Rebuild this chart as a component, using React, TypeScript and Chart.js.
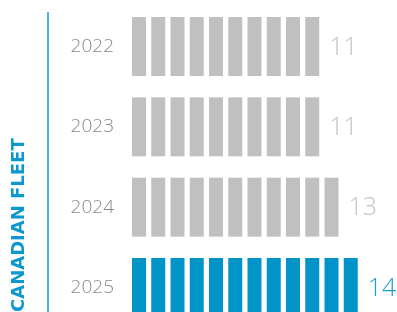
import { useEffect, useRef } from "react";
import { Chart, registerables } from "chart.js";

Chart.register(...registerables);

// ---- data ----
const years: string[] = ["2022", "2023", "2024", "2025"];
const fleetValues: number[] = [11, 11, 13, 14];
const unitCounts: number[] = [10, 10, 11, 12];
const highlightYear = "2025";
const axisTitle = "CANADIAN FLEET";

// ---- styles ----
const GRAY = "#c0c0c0";
const BLUE = "#0094c8";
const LINE_BLUE = "#4ab4dc";
const TITLE_BLUE = "#0d97cf";
const YEAR_COLOR = "#8a8a8a";
const VALUE_GRAY = "#c4c4c4";
const VALUE_BLUE = "#1a9ed3";
const UNIT_FILL = 0.727;
const TITLE_FONT_SIZE = 18;
const TITLE_PAD = 8.5;
const TITLE_W = TITLE_FONT_SIZE * 1.2 + TITLE_PAD * 2;

export default function App() {
  const ref = useRef<HTMLCanvasElement | null>(null);

  useEffect(() => {
    if (!ref.current) return;
    const maxUnits = Math.max(...unitCounts);
    const datasets = Array.from({ length: maxUnits }, (_, i) => ({
      label: `unit ${i + 1}`,
      data: unitCounts.map((n) => (n > i ? [i, i + UNIT_FILL] : null)),
      backgroundColor: years.map((y) => (y === highlightYear ? BLUE : GRAY)),
      grouped: false,
      clip: false as any,
      barPercentage: 0.734,
      categoryPercentage: 1,
      borderWidth: 0,
    }));

    const valueLabels = {
      id: "valueLabels",
      afterDatasetsDraw(chart: any) {
        const ctx = chart.ctx;
        ctx.save();
        ctx.font = "300 25px 'Open Sans', 'Liberation Sans', sans-serif";
        ctx.textBaseline = "middle";
        ctx.textAlign = "left";
        years.forEach((y, c) => {
          const meta = chart.getDatasetMeta(unitCounts[c] - 1);
          const el = meta.data[c];
          if (!el) return;
          ctx.fillStyle = y === highlightYear ? VALUE_BLUE : VALUE_GRAY;
          ctx.fillText(String(fleetValues[c]), el.x + 10, el.y + 1);
        });
        ctx.restore();
      },
    };

    const sideLine = {
      id: "sideLine",
      afterDraw(chart: any) {
        const ctx = chart.ctx;
        const x = chart.titleBlock.right + 9.4;
        ctx.save();
        ctx.strokeStyle = LINE_BLUE;
        ctx.lineWidth = 2;
        ctx.beginPath();
        ctx.moveTo(x, 12);
        ctx.lineTo(x, chart.height);
        ctx.stroke();
        ctx.restore();
      },
    };

    const chart = new Chart(ref.current, {
      type: "bar",
      data: { labels: years, datasets: datasets as any },
      options: {
        indexAxis: "y",
        animation: false,
        responsive: false,
        layout: { padding: { top: 46.5, right: 14.75, bottom: 0, left: 0 } },
        plugins: {
          legend: { display: false },
          tooltip: { enabled: false },
          title: {
            display: true,
            position: "left",
            align: "start",
            text: axisTitle,
            color: TITLE_BLUE,
            font: { family: "'DejaVu Sans', sans-serif", size: TITLE_FONT_SIZE, weight: "bold" },
            padding: { top: TITLE_PAD, bottom: TITLE_PAD },
          },
        },
        scales: {
          x: {
            type: "linear",
            min: 0,
            max: 13,
            display: true,
            grid: { display: false, drawTicks: false },
            border: { display: false },
            ticks: { display: false },
            afterFit(scale: any) {
              scale.height = 24.5;
            },
          },
          y: {
            type: "category",
            offset: false,
            grid: { display: false, drawTicks: false },
            border: { display: false },
            ticks: {
              padding: 18,
              color: YEAR_COLOR,
              font: { family: "'Open Sans', 'Liberation Sans', sans-serif", size: 19, weight: 300 as any },
            },
            afterFit(scale: any) {
              scale.width = 132 - TITLE_W;
              scale.paddingTop = 0;
              scale.paddingBottom = 0;
            },
          },
        },
      },
      plugins: [valueLabels, sideLine],
    });
    return () => chart.destroy();
  }, []);

  return (
    <div style={{ position: "fixed", left: 0, top: 0, width: 397, height: 312, background: "#fff", overflow: "hidden" }}>
      <canvas ref={ref} width={397} height={312} style={{ display: "block" }} />
    </div>
  );
}
